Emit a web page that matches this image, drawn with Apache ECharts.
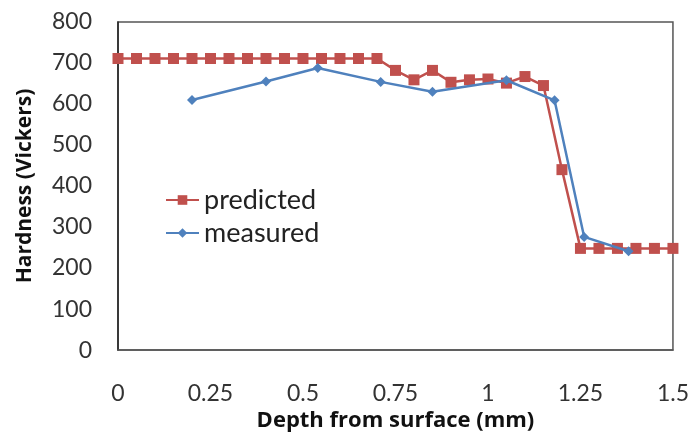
<!DOCTYPE html>
<html>
<head>
<meta charset="utf-8">
<script src="https://cdn.jsdelivr.net/npm/echarts@6/dist/echarts.min.js"></script>
<style>
  html, body { margin: 0; padding: 0; background: #fff; }
  #chart { width: 692px; height: 437px; }
</style>
</head>
<body>
<div id="chart"></div>
<script>
// Predicted hardness profile, sampled every 0.05 mm
const predictedDepth = [0, 0.05, 0.1, 0.15, 0.2, 0.25, 0.3, 0.35, 0.4, 0.45, 0.5, 0.55, 0.6, 0.65, 0.7,
  0.75, 0.8, 0.85, 0.9, 0.95, 1.0, 1.05, 1.1, 1.15, 1.2, 1.25, 1.3, 1.35, 1.4, 1.45, 1.5];
const predictedHardness = [711, 711, 711, 711, 711, 711, 711, 711, 711, 711, 711, 711, 711, 711, 711,
  682, 659, 682, 653, 659, 661, 651, 667, 645, 440, 248, 248, 248, 248, 248, 248];

// Measured hardness
const measuredDepth = [0.2, 0.4, 0.54, 0.71, 0.85, 1.05, 1.18, 1.26, 1.38];
const measuredHardness = [610, 655, 688, 654, 630, 658, 609, 276, 241];

const yTicks = [0, 100, 200, 300, 400, 500, 600, 700, 800];
const xTicks = [0, 0.25, 0.5, 0.75, 1, 1.25, 1.5];

const font = 'Lato, "Open Sans", sans-serif';
const titleFont = '"Open Sans", Lato, sans-serif';
const pair = (xs, ys) => xs.map((x, i) => [x, ys[i]]);

const chart = echarts.init(document.getElementById('chart'));
chart.setOption({
  animation: false,
  backgroundColor: '#ffffff',
  grid: { left: 118, top: 22, right: 19, bottom: 83, show: true, borderColor: '#555555', borderWidth: 1.5 },
  legend: {
    orient: 'vertical',
    left: 160,
    top: 180,
    itemGap: 3,
    itemWidth: 33,
    itemHeight: 12,
    textStyle: { fontFamily: font, fontSize: 27, lineHeight: 30, color: '#222' },
    data: ['predicted', 'measured']
  },
  xAxis: {
    type: 'value',
    min: 0, max: 1.5, interval: 0.25,
    name: 'Depth from surface (mm)',
    nameLocation: 'middle',
    nameGap: 58,
    nameTextStyle: { fontFamily: titleFont, fontSize: 22, fontWeight: 'bold', color: '#111' },
    axisLine: { show: true, lineStyle: { color: '#555', width: 1.5 } },
    axisTick: { show: false },
    splitLine: { show: false },
    axisLabel: {
      fontFamily: font, fontSize: 23, color: '#333', margin: 32,
      formatter: v => { const t = xTicks.find(k => Math.abs(k - v) < 1e-9); return t === undefined ? '' : String(t); }
    }
  },
  yAxis: {
    type: 'value',
    min: 0, max: 800, interval: 100,
    name: 'Hardness (Vickers)',
    nameLocation: 'middle',
    nameGap: 82,
    nameTextStyle: { fontFamily: titleFont, fontSize: 21, fontWeight: 'bold', color: '#111' },
    axisLine: { show: true, lineStyle: { color: '#222', width: 1.5 } },
    axisTick: { show: false },
    splitLine: { show: false },
    axisLabel: {
      fontFamily: font, fontSize: 23, color: '#333', margin: 26,
      formatter: v => yTicks.includes(v) ? String(v) : ''
    }
  },
  series: [
    {
      name: 'predicted',
      type: 'line',
      data: pair(predictedDepth, predictedHardness),
      symbol: 'rect',
      symbolSize: 11,
      itemStyle: { color: '#C0504D' },
      lineStyle: { color: '#C0504D', width: 2.5 },
      z: 3
    },
    {
      name: 'measured',
      type: 'line',
      data: pair(measuredDepth, measuredHardness),
      symbol: 'diamond',
      symbolSize: 10,
      itemStyle: { color: '#4F81BD' },
      lineStyle: { color: '#4F81BD', width: 2.5 },
      z: 4
    }
  ]
});
</script>
</body>
</html>
